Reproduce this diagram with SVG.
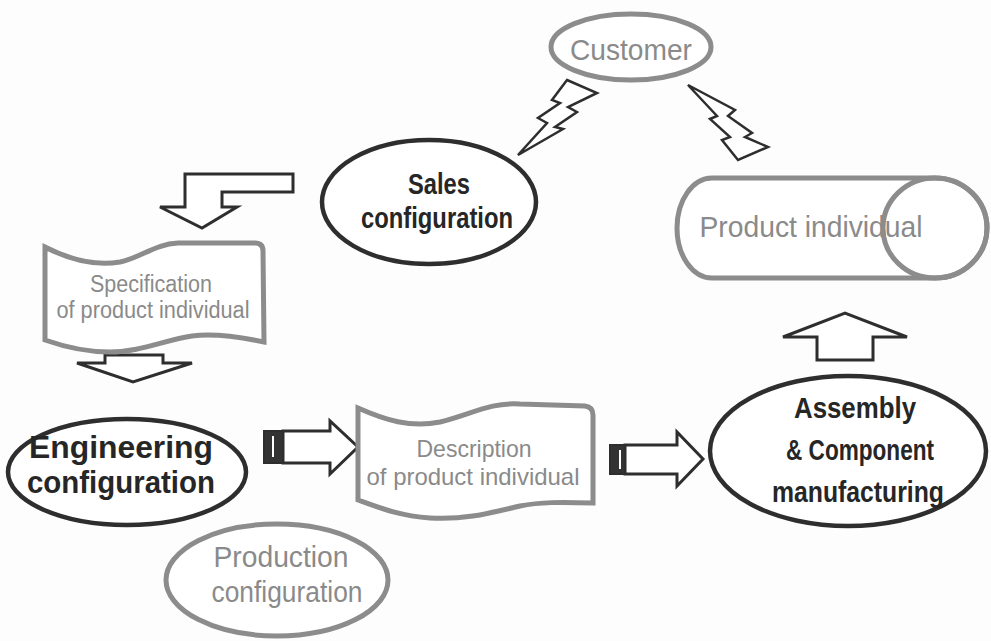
<svg xmlns="http://www.w3.org/2000/svg" width="991" height="641" viewBox="0 0 991 641">
<style>
.bg{fill:#fdfdfd}
.gray{fill:#ffffff;stroke:#8c8c8c;stroke-width:5}
.dark{fill:#ffffff;stroke:#2e2e2e;stroke-width:4.5}
.arrow{fill:#ffffff;stroke:#2e2e2e;stroke-width:3;stroke-linejoin:miter}
.bolt{fill:#ffffff;stroke:#2e2e2e;stroke-width:2.5;stroke-linejoin:miter}
.block{fill:#333333;stroke:#2e2e2e;stroke-width:2}
.stripe{stroke:#ffffff;stroke-width:2}
text{font-family:"Liberation Sans",Arial,sans-serif;text-anchor:middle}
.tg{fill:#8a8a8a;font-weight:normal}
.tb{fill:#262626;font-weight:bold}
</style>
<rect class="bg" x="0" y="0" width="991" height="641"/>

<g id="connectors">
  <polygon class="bolt" points="567,80 597,93 568,107 577,112 555,127 563,129 518,155 547,123 538,118 560,103 552,100"/>
  <polygon class="bolt" points="688,85 735,110 728,116 752,133 745,137 768,147 738,160 722,140 730,137 710,119 717,116"/>
  <polygon class="arrow" points="293,174 185,174 185,207 160,207 202,228 237,207 222,207 222,192 293,192"/>
  <polygon class="arrow" points="105,355 163,355 163,363 192,363 133,382 77,363 105,363"/>
  <polygon class="arrow" points="817,360 873,360 873,337 907,337 845,313 783,337 817,337"/>
  <polygon class="arrow" points="283,431 330,431 330,421 358,447 330,474 330,463 283,463"/>
  <rect class="block" x="264" y="431" width="19" height="32"/>
  <line class="stripe" x1="273" y1="436" x2="273" y2="457"/>
  <polygon class="arrow" points="625,445 677,445 677,432 703,459 677,486 677,474 625,474"/>
  <rect class="block" x="610" y="445" width="15" height="29"/>
  <line class="stripe" x1="620" y1="450" x2="620" y2="469"/>
</g>

<g id="customer">
  <ellipse class="gray" cx="631" cy="47" rx="80" ry="33"/>
  <text class="tg" x="631" y="60" font-size="30" textLength="122" lengthAdjust="spacingAndGlyphs">Customer</text>
</g>

<g id="sales-configuration">
  <ellipse class="dark" cx="429" cy="202" rx="107" ry="62"/>
  <text class="tb" x="439" y="194" font-size="29" textLength="62" lengthAdjust="spacingAndGlyphs">Sales</text>
  <text class="tb" x="437" y="228" font-size="29" textLength="152" lengthAdjust="spacingAndGlyphs">configuration</text>
</g>

<g id="specification">
  <path class="gray" d="M45,247 C70,260 95,266 120,262 C140,258 155,244 178,243 L255,243 Q263,243 263,251 L264,342 C240,337 215,333 192,336 C165,340 140,352 110,352 C85,352 62,346 45,340 Z"/>
  <text class="tg" x="151" y="292" font-size="23" textLength="122" lengthAdjust="spacingAndGlyphs">Specification</text>
  <text class="tg" x="153" y="318" font-size="23" textLength="193" lengthAdjust="spacingAndGlyphs">of product individual</text>
</g>

<g id="engineering-configuration">
  <ellipse class="dark" cx="127" cy="472" rx="119" ry="53"/>
  <text class="tb" x="121" y="458" font-size="31" textLength="184" lengthAdjust="spacingAndGlyphs">Engineering</text>
  <text class="tb" x="121" y="493" font-size="31" textLength="188" lengthAdjust="spacingAndGlyphs">configuration</text>
</g>

<g id="production-configuration">
  <ellipse class="gray" cx="277" cy="580" rx="111" ry="56"/>
  <text class="tg" x="281" y="567" font-size="29" textLength="135" lengthAdjust="spacingAndGlyphs">Production</text>
  <text class="tg" x="287" y="602" font-size="29" textLength="151" lengthAdjust="spacingAndGlyphs">configuration</text>
</g>

<g id="description">
  <path class="gray" d="M358,408 C385,420 410,428 440,422 C470,415 490,402 520,404 L585,406 Q593,407 593,415 L593,503 C560,502 540,502 520,506 C490,513 465,520 430,518 C400,516 380,508 358,500 Z"/>
  <text class="tg" x="474" y="457" font-size="24" textLength="115" lengthAdjust="spacingAndGlyphs">Description</text>
  <text class="tg" x="473" y="485" font-size="24" textLength="213" lengthAdjust="spacingAndGlyphs">of product individual</text>
</g>

<g id="assembly">
  <ellipse class="dark" cx="848" cy="451" rx="138" ry="75"/>
  <text class="tb" x="855" y="418" font-size="29" textLength="122" lengthAdjust="spacingAndGlyphs">Assembly</text>
  <text class="tb" x="860" y="460" font-size="29" textLength="148" lengthAdjust="spacingAndGlyphs">&amp; Component</text>
  <text class="tb" x="858" y="502" font-size="29" textLength="172" lengthAdjust="spacingAndGlyphs">manufacturing</text>
</g>

<g id="product-individual">
  <path class="gray" d="M712,178 L935,178 A52,50 0 0 1 935,278 L712,278 A35,50 0 0 1 712,178 Z"/>
  <text class="tg" x="811" y="237" font-size="29" textLength="223" lengthAdjust="spacingAndGlyphs">Product individual</text>
  <ellipse cx="935" cy="228" rx="52" ry="50" fill="none" stroke="#8c8c8c" stroke-width="5"/>
</g>
</svg>
